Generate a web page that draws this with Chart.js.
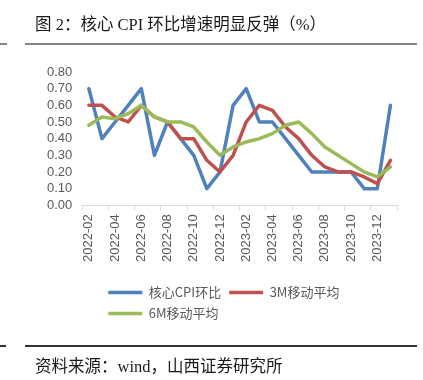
<!DOCTYPE html>
<html>
<head>
<meta charset="utf-8">
<script src="https://cdn.jsdelivr.net/npm/chart.js@4.4.1/dist/chart.umd.min.js"></script>
<style>
  html, body { margin: 0; padding: 0; background: #fff; }
  #wrap { position: relative; width: 423px; height: 380px; overflow: hidden; }
  #c { position: absolute; left: 0; top: 0; }
  .txt { position: absolute; white-space: nowrap; font-family: 'Liberation Serif', 'Noto Sans CJK SC', serif; font-size: 16.5px; color: #1a1a1a; line-height: 21px; }
  .rule { position: absolute; }
</style>
</head>
<body>
<div id="wrap">
  <canvas id="c" width="423" height="380"></canvas>
  <div class="txt" style="left:35px; top:14px;">图 2：核心 CPI 环比增速明显反弹（%）</div>
  <div class="rule" style="left:0; top:43px; width:7px; height:2px; background:#858585;"></div>
  <div class="rule" style="left:25px; top:43px; width:392px; height:2px; background:#858585;"></div>
  <div class="rule" style="left:0; top:345px; width:6px; height:1.5px; background:#333;"></div>
  <div class="rule" style="left:25px; top:345px; width:392px; height:1.5px; background:#333;"></div>
  <div class="txt" style="left:35px; top:356px;">资料来源：wind，山西证券研究所</div>
</div>
<script>
const months = ['2022-02','2022-03','2022-04','2022-05','2022-06','2022-07','2022-08','2022-09','2022-10','2022-11','2022-12','2023-01',
                '2023-02','2023-03','2023-04','2023-05','2023-06','2023-07','2023-08','2023-09','2023-10','2023-11','2023-12','2024-01'];
const coreCpiMoM = [0.7,0.4,0.5,0.6,0.7,0.3,0.5,0.4,0.3,0.1,0.2,0.6,0.7,0.5,0.5,0.4,0.3,0.2,0.2,0.2,0.2,0.1,0.1,0.6];
const ma3 = [0.6,0.6,0.53,0.5,0.6,0.53,0.5,0.4,0.4,0.27,0.2,0.3,0.5,0.6,0.57,0.47,0.4,0.3,0.23,0.2,0.2,0.17,0.13,0.27];
const ma6 = [0.48,0.53,0.52,0.55,0.6,0.53,0.5,0.5,0.47,0.38,0.3,0.35,0.38,0.4,0.43,0.48,0.5,0.43,0.35,0.3,0.25,0.2,0.17,0.23];
const seriesNames = ['核心CPI环比','3M移动平均','6M移动平均'];
const yTicks = [0,0.1,0.2,0.3,0.4,0.5,0.6,0.7,0.8];

const LEGEND_SHIFT_X = 18;
const legendShift = {
  id: 'legendShift',
  afterLayout(chart) {
    const l = chart.legend;
    if (l) { l.left += LEGEND_SHIFT_X; l.right += LEGEND_SHIFT_X; }
  }
};

const axisGrey = '#d9d9d9';
const textGrey = '#595959';
const LINE_W = 3.5;

new Chart(document.getElementById('c'), {
  type: 'line',
  data: {
    labels: months,
    datasets: [
      { label: seriesNames[0], data: coreCpiMoM, borderColor: '#4F81BD', backgroundColor: '#4F81BD', borderWidth: LINE_W, order: 3 },
      { label: seriesNames[1], data: ma3, borderColor: '#C0504D', backgroundColor: '#C0504D', borderWidth: LINE_W, order: 2 },
      { label: seriesNames[2], data: ma6, borderColor: '#9BBB59', backgroundColor: '#9BBB59', borderWidth: LINE_W, order: 1 }
    ]
  },
  options: {
    responsive: false,
    animation: false,
    devicePixelRatio: 1,
    layout: { padding: { top: 72, left: 37, right: 26, bottom: 50 } },
    elements: {
      line: { tension: 0, borderCapStyle: 'round', borderJoinStyle: 'round' },
      point: { radius: 0, hoverRadius: 0 }
    },
    scales: {
      x: {
        offset: true,
        grid: {
          display: true,
          offset: true,
          drawOnChartArea: false,
          drawTicks: true,
          tickLength: 5,
          color: (ctx) => (ctx.index === undefined || ctx.index % 2 === 0) ? axisGrey : 'rgba(0,0,0,0)'
        },
        border: { display: true, color: axisGrey, width: 1 },
        ticks: {
          autoSkip: false,
          maxRotation: 90,
          minRotation: 90,
          padding: 4,
          color: textGrey,
          font: { family: 'Liberation Sans', size: 13 },
          callback: function(v, i) { return i % 2 === 0 ? months[i] : ''; }
        },
        title: { display: true, text: ' ', font: { size: 10 }, padding: { top: 0, bottom: 0 } }
      },
      y: {
        min: 0,
        max: 0.8,
        afterBuildTicks: (scale) => { scale.ticks = yTicks.map(v => ({ value: v })); },
        grid: { display: false, drawTicks: false },
        border: { display: false },
        ticks: {
          autoSkip: false,
          padding: 10,
          color: textGrey,
          font: { family: 'Liberation Sans', size: 13 },
          callback: (v) => Number(v).toFixed(2)
        }
      }
    },
    plugins: {
      tooltip: { enabled: false },
      legend: {
        display: true,
        position: 'bottom',
        align: 'start',
        fullSize: false,
        labels: {
          usePointStyle: true,
          pointStyle: 'line',
          pointStyleWidth: 34,
          boxHeight: 13,
          padding: 8,
          color: textGrey,
          font: { family: "'Noto Sans CJK SC', 'Liberation Sans', sans-serif", size: 13 },
          sort: (a, b) => a.datasetIndex - b.datasetIndex
        }
      }
    }
  },
  plugins: [legendShift]
});
</script>
</body>
</html>
